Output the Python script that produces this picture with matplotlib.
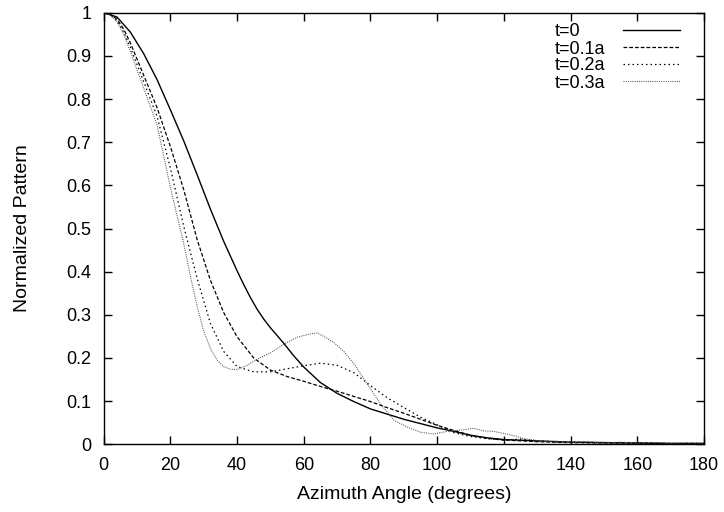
import matplotlib
matplotlib.use("Agg")
import matplotlib.pyplot as plt

plt.rcParams["font.family"] = ["Liberation Sans", "DejaVu Sans"]

# t = 0
ang_0 = [0, 4, 8, 12, 16, 20, 24, 28, 32, 36, 40, 42, 44, 46, 48, 50, 52, 54, 57, 60,
         65, 70, 75, 80, 85, 90, 95, 100, 105, 110, 115, 120, 130, 140, 150, 160, 170, 180]
pat_0 = [1.000, 0.990, 0.955, 0.905, 0.845, 0.775, 0.703, 0.625, 0.545, 0.470, 0.402,
         0.370, 0.340, 0.313, 0.290, 0.270, 0.252, 0.234, 0.205, 0.179, 0.143, 0.118,
         0.099, 0.082, 0.070, 0.058, 0.048, 0.038, 0.030, 0.021, 0.015, 0.011, 0.008,
         0.005, 0.004, 0.003, 0.002, 0.002]

# t = 0.1a
ang_1 = [0, 2, 4, 6, 8, 12, 16, 20, 24, 28, 32, 36, 40, 45, 50, 55, 60, 65, 70, 75, 80,
         85, 90, 95, 100, 105, 110, 115, 120, 130, 140, 150, 160, 170, 180]
pat_1 = [1.000, 0.996, 0.985, 0.962, 0.930, 0.855, 0.780, 0.690, 0.590, 0.475, 0.380,
         0.305, 0.249, 0.200, 0.172, 0.157, 0.146, 0.134, 0.123, 0.111, 0.099, 0.085,
         0.072, 0.058, 0.044, 0.032, 0.021, 0.014, 0.010, 0.006, 0.004, 0.003, 0.003,
         0.002, 0.002]

# t = 0.2a
ang_2 = [0, 2, 4, 6, 8, 12, 16, 20, 24, 28, 32, 36, 40, 45, 50, 55, 60, 65, 70, 75, 80,
         85, 90, 95, 100, 105, 110, 115, 120, 125, 130, 135, 140, 150, 160, 170, 180]
pat_2 = [1.000, 0.995, 0.980, 0.955, 0.920, 0.840, 0.760, 0.640, 0.505, 0.385, 0.280,
         0.215, 0.180, 0.168, 0.168, 0.175, 0.182, 0.188, 0.183, 0.166, 0.136, 0.108,
         0.085, 0.063, 0.045, 0.027, 0.018, 0.013, 0.010, 0.012, 0.008, 0.006, 0.005,
         0.004, 0.003, 0.002, 0.002]

# t = 0.3a
ang_3 = [0, 2, 4, 6, 8, 12, 16, 20, 24, 26, 28, 30, 32, 34, 36, 38, 40, 43, 46, 50, 54,
         58, 62, 64, 66, 69, 72, 75, 79, 83, 87, 91, 95, 99, 103, 107, 111, 114, 117,
         120, 123, 126, 129, 132, 136, 140, 145, 150, 155, 160, 165, 170, 175, 180]
pat_3 = [1.000, 0.995, 0.980, 0.950, 0.910, 0.825, 0.740, 0.595, 0.465, 0.390, 0.320,
         0.262, 0.222, 0.195, 0.180, 0.174, 0.173, 0.183, 0.197, 0.212, 0.232, 0.248,
         0.256, 0.258, 0.250, 0.236, 0.215, 0.187, 0.140, 0.094, 0.056, 0.040, 0.028,
         0.024, 0.030, 0.033, 0.037, 0.031, 0.030, 0.025, 0.020, 0.013, 0.010, 0.006,
         0.007, 0.004, 0.006, 0.003, 0.005, 0.003, 0.004, 0.002, 0.003, 0.002]

labels = ["t=0", "t=0.1a", "t=0.2a", "t=0.3a"]
x_ticks = [0, 20, 40, 60, 80, 100, 120, 140, 160, 180]
y_ticks = [0, 0.1, 0.2, 0.3, 0.4, 0.5, 0.6, 0.7, 0.8, 0.9, 1]
y_labels = ["0", "0.1", "0.2", "0.3", "0.4", "0.5", "0.6", "0.7", "0.8", "0.9", "1"]

fig = plt.figure(figsize=(7.24, 5.12), dpi=100, facecolor="white")
ax = fig.add_axes([0.1432, 0.1322, 0.8292, 0.843])

l0, = ax.plot(ang_0, pat_0, color="black", linewidth=1.0)
l1, = ax.plot(ang_1, pat_1, color="black", linewidth=0.9, dashes=(3.0, 1.6))
l2, = ax.plot(ang_2, pat_2, color="black", linewidth=0.9, dashes=(1.2, 2.4))
l3, = ax.plot(ang_3, pat_3, color="#555555", linewidth=0.8, dashes=(0.9, 1.1))
lines = [l0, l1, l2, l3]

ax.set_xlim(0, 180)
ax.set_ylim(0, 1)
ax.set_xticks(x_ticks)
ax.set_yticks(y_ticks)
ax.set_yticklabels(y_labels)
ax.tick_params(direction="in", length=6, width=1, top=True, right=True,
               labelsize=13, pad=9)
for s in ax.spines.values():
    s.set_linewidth(1.0)

ax.set_xlabel("Azimuth Angle (degrees)", fontsize=14, labelpad=9)
ax.set_ylabel("Normalized Pattern", fontsize=14, labelpad=25)

# gnuplot-style key: left-aligned text column, sample lines column
key_top = 1 - 23.5 / 512
leg_text = ax.legend(lines, labels, loc="upper left", bbox_to_anchor=(555 / 724, key_top),
                     bbox_transform=fig.transFigure, frameon=False, fontsize=13,
                     handlelength=0, handletextpad=0, labelspacing=0,
                     borderpad=0, borderaxespad=0)
ax.add_artist(leg_text)
ax.legend(lines, [""] * 4, loc="upper left", bbox_to_anchor=(623 / 724, key_top),
          bbox_transform=fig.transFigure, frameon=False, fontsize=13,
          handlelength=3.15, handletextpad=0, labelspacing=0,
          borderpad=0, borderaxespad=0)

fig.savefig("out.png", dpi=100, facecolor="white")
